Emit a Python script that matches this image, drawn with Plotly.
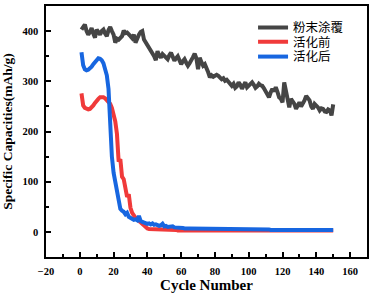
import plotly.graph_objects as go

cycles = list(range(1, 151))

powder_coated = [
    403, 408, 413, 400, 393, 398, 406, 395, 387, 403,
    398, 393, 400, 403, 395, 390, 402, 408, 400, 393,
    377, 385, 383, 388, 390, 401, 396, 397, 392, 390,
    386, 393, 377, 388, 393, 398, 400, 383, 378, 370,
    365, 360, 355, 350, 342, 360, 352, 347, 354, 350,
    348, 344, 352, 357, 349, 341, 346, 350, 342, 334,
    340, 344, 337, 331, 336, 341, 348, 355, 346, 324,
    347, 338, 331, 334, 327, 318, 308, 312, 309, 311,
    313, 311, 308, 304, 306, 301, 303, 298, 294, 291,
    295, 287, 290, 298, 293, 285, 292, 298, 288, 291,
    296, 298, 293, 287, 290, 295, 292, 291, 286, 281,
    275, 268, 278, 285, 280, 288, 279, 268, 265, 258,
    298, 283, 268, 248, 265, 260, 255, 245, 252, 258,
    250, 255, 262, 271, 266, 262, 250, 245, 255, 252,
    248, 242, 246, 245, 240, 239, 244, 242, 232, 254,
]

before_activation = [
    276, 252, 247, 245, 244, 245, 248, 252, 257, 262,
    265, 268, 269, 268, 266, 263, 259, 255, 247, 236,
    220, 195, 140, 145, 110, 105, 85, 70, 75, 48,
    38, 32, 28, 25, 22, 18, 14, 11, 9, 7,
    6, 6, 5, 5, 5, 4, 4, 4, 4, 4,
    4, 4, 4, 4, 4, 4, 4, 3, 3, 3,
    3, 3, 3, 3, 3, 3, 3, 3, 3, 3,
    3, 3, 3, 3, 3, 3, 3, 3, 3, 3,
    3, 3, 3, 3, 3, 3, 3, 3, 3, 3,
    3, 3, 3, 3, 3, 3, 3, 3, 3, 3,
    3, 3, 3, 3, 3, 3, 3, 3, 3, 3,
    3, 3, 3, 3, 3, 3, 3, 3, 3, 3,
    3, 3, 3, 3, 3, 3, 3, 3, 3, 3,
    3, 3, 3, 3, 3, 3, 3, 3, 3, 3,
    3, 3, 3, 3, 3, 3, 3, 3, 3, 3,
]

after_activation = [
    358, 332, 324, 322, 323, 325, 329, 334, 338, 343,
    346, 345, 342, 336, 326, 312, 285, 215, 150, 118,
    100, 78, 55, 46, 42, 40, 35, 38, 30, 28,
    26, 24, 25, 23, 32, 22, 20, 18, 18, 16,
    17, 15, 17, 14, 15, 13, 12, 13, 16, 11,
    12, 10, 11, 10, 11, 9, 9, 8, 9, 8,
    8, 7, 8, 7, 7, 7, 7, 6, 7, 6,
    6, 6, 6, 6, 6, 6, 6, 6, 6, 6,
    6, 5, 6, 5, 5, 5, 5, 5, 5, 5,
    5, 5, 5, 5, 5, 5, 5, 5, 5, 5,
    5, 5, 5, 5, 5, 5, 5, 5, 5, 5,
    5, 5, 4, 5, 4, 4, 4, 4, 4, 4,
    4, 4, 4, 4, 4, 4, 4, 4, 4, 4,
    4, 4, 4, 4, 4, 4, 4, 4, 4, 4,
    4, 4, 4, 4, 4, 4, 4, 4, 4, 4,
]

series_names = ["粉末涂覆", "活化前", "活化后"]
series_colors = ["#454545", "#f03a3a", "#1766e0"]
legend_ids = ["legend", "legend2", "legend3"]
legend_rows_y = [0.913, 0.856, 0.797]

fig = go.Figure()
for name, vals, col, lid in zip(series_names,
                                [powder_coated, before_activation, after_activation],
                                series_colors, legend_ids):
    fig.add_trace(go.Scatter(x=cycles, y=vals, mode="lines", name=name,
                             legend=lid, line=dict(color=col, width=4)))

axis_common = dict(
    showline=True, linecolor="black", linewidth=1.5, mirror=True,
    ticks="inside", ticklen=5, tickwidth=1.5, tickcolor="black",
    showgrid=False, zeroline=False, ticklabelstandoff=4,
    tickfont=dict(family="Liberation Serif", size=10.5, color="black", weight="bold"),
)

fig.update_xaxes(
    range=[-20, 170], dtick=20, tick0=0,
    minor=dict(dtick=10, ticks="inside", ticklen=3, tickwidth=1.5, tickcolor="black"),
    title=dict(text="Cycle Number", standoff=2,
               font=dict(family="Liberation Serif", size=15, color="black", weight="bold")),
    **axis_common,
)
fig.update_yaxes(
    range=[-50, 450], dtick=100, tick0=0,
    minor=dict(dtick=50, ticks="inside", ticklen=3, tickwidth=1.5, tickcolor="black"),
    title=dict(text="Specific Capacities(mAh/g)", standoff=7,
               font=dict(family="Liberation Serif", size=13.5, color="black", weight="bold")),
    **axis_common,
)

legend_style = dict(x=0.645, xanchor="left", yanchor="middle",
                    bgcolor="rgba(0,0,0,0)",
                    font=dict(family="Noto Sans CJK SC", size=12.5, color="black"),
                    itemwidth=30)

fig.update_layout(
    width=373, height=294,
    margin=dict(l=46, r=4, t=4, b=37),
    paper_bgcolor="white", plot_bgcolor="white",
    showlegend=True,
    legend=dict(y=legend_rows_y[0], **legend_style),
    legend2=dict(y=legend_rows_y[1], **legend_style),
    legend3=dict(y=legend_rows_y[2], **legend_style),
)

fig.write_html("out.html", config={"displayModeBar": False},
               post_script="document.body.style.margin='0';")
